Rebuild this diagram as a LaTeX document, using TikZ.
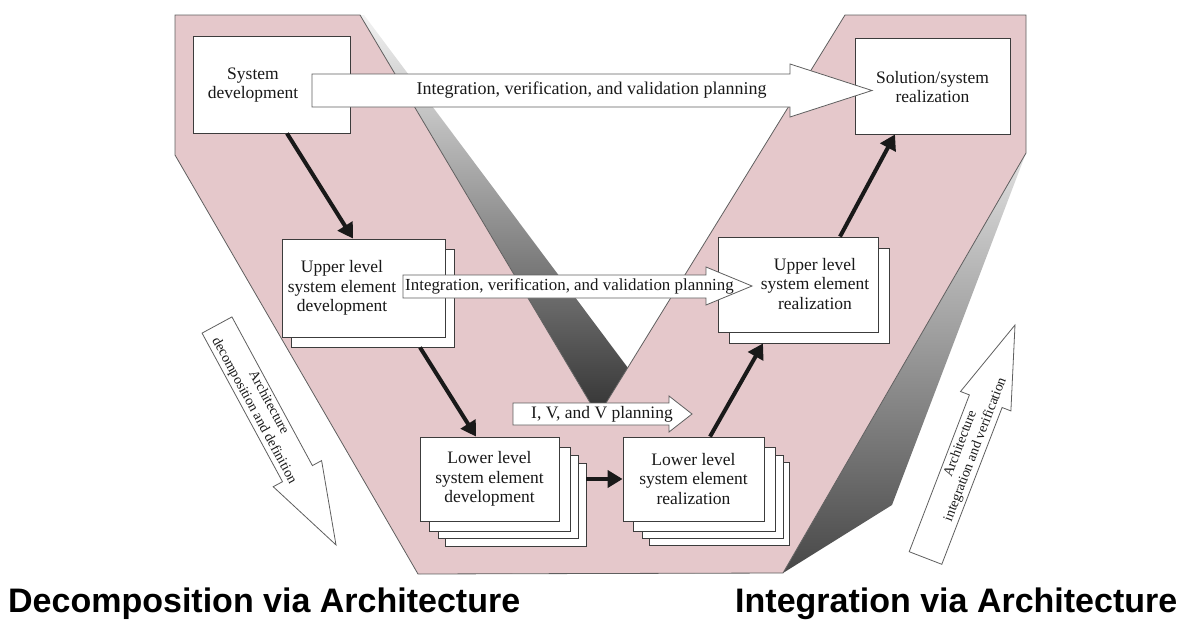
\documentclass[tikz,border=0pt]{standalone}
\usepackage{fontspec}
\setmainfont{Liberation Serif}
\newfontfamily\headfont{Liberation Sans}
\usetikzlibrary{arrows.meta}
\definecolor{vpink}{RGB}{229,200,203}
\definecolor{vedge}{RGB}{95,95,95}
\definecolor{boxedge}{RGB}{60,60,60}
\definecolor{txt}{RGB}{25,25,25}
\begin{document}
\begin{tikzpicture}[x=1pt,y=-1pt,line join=miter,
 box/.style={draw=boxedge,line width=0.8pt,fill=white,inner sep=0pt},
 lbl/.style={font=\fontsize{17.5}{19.5}\selectfont,text=txt,align=center,inner sep=0pt},
 small/.style={font=\fontsize{14}{16.5}\selectfont,text=txt,align=center,inner sep=0pt},
 flow/.style={draw=black!90,line width=4pt,-{Triangle[length=15pt,width=17pt]}},
 blk/.style={draw=vedge,line width=0.8pt,fill=white},
 head/.style={font=\headfont\bfseries\fontsize{34}{40}\selectfont,text=black,inner sep=0pt,anchor=base west}]
\useasboundingbox (0,0) rectangle (1195,619);
% gray depth bands
\shade[top color=black!5,bottom color=black!80] (360,15) -- (364,15) -- (628,368) -- (598,416) -- cycle;
\shade[top color=black!12,bottom color=black!72] (1026,153) -- (892,505) -- (783,573) -- cycle;
% pink V
\draw[vedge,line width=0.8pt,fill=vpink] (175,15) -- (360,15) -- (598,416) -- (845,15) -- (1026,15) -- (1026,153) -- (783,573) -- (418,574) -- (175,155) -- cycle;
% boxes
\node[box,minimum width=157pt,minimum height=97pt] (sd) at (271.5,84.5) {};
\node[lbl] (sdt) at (253,85) {System\\development};
\node[box,minimum width=155pt,minimum height=96pt] (sol) at (932.5,86) {};
\node[lbl] (solt) at (932.5,87) {Solution/system\\realization};
\node[box,minimum width=163pt,minimum height=98pt] (udb) at (372.5,298) {};
\node[box,minimum width=163pt,minimum height=98pt] (ud) at (363.5,288) {};
\node[lbl] (udt) at (342,288) {Upper level\\system element\\development};
\node[box,minimum width=160pt,minimum height=95pt] (urb) at (809,295.5) {};
\node[box,minimum width=160pt,minimum height=95pt] (ur) at (798,284.5) {};
\node[lbl] (urt) at (815,284) {Upper level\\system element\\realization};
\node[box,minimum width=141pt,minimum height=83pt] (ldc) at (515.5,504.5) {};
\node[box,minimum width=140pt,minimum height=83pt] (ldb) at (508,496.5) {};
\node[box,minimum width=141pt,minimum height=84pt] (lda) at (499.5,489) {};
\node[box,minimum width=139pt,minimum height=84pt] (ld) at (489.5,479) {};
\node[lbl] (ldt) at (489.5,479) {Lower level\\system element\\development};
\node[box,minimum width=140pt,minimum height=83pt] (lrc) at (719.3,504.3) {};
\node[box,minimum width=141pt,minimum height=83pt] (lrb) at (713,496.7) {};
\node[box,minimum width=142pt,minimum height=84pt] (lra) at (704,489) {};
\node[box,minimum width=141pt,minimum height=84pt] (lr) at (693.5,479) {};
\node[lbl] (lrt) at (693.5,479) {Lower level\\system element\\realization};
% flow connectors
\draw[flow] ([xshift=15.5pt]sd.south) -- ([xshift=-10.5pt]ud.north);
\draw[flow] ([xshift=47.5pt]udb.south) -- ([xshift=-13.5pt]ld.north);
\draw[flow] (ldc.east |- ld.east) -- (lr.west);
\draw[flow] ([xshift=16.5pt]lr.north) -- ([xshift=-46pt]urb.south);
\draw[flow] ([xshift=42pt]ur.north) -- ([xshift=-37.5pt]sol.south);
% planning block arrows
\draw[blk] (312,74) -- (790,74) -- (790,64) -- (872,90.5) -- (790,117) -- (790,107) -- (312,107) -- cycle;
\node[lbl,font=\fontsize{18}{20}\selectfont] (ivv1) at (591.5,90.5) {Integration, verification, and validation planning};
\draw[blk] (403,275) -- (706,275) -- (706,267) -- (752,286) -- (706,305) -- (706,298) -- (403,298) -- cycle;
\node[lbl,font=\fontsize{16.9}{19}\selectfont] (ivv2) at (569.5,286.5) {Integration, verification, and validation planning};
\draw[blk] (513,403) -- (669,403) -- (669,396) -- (692,414) -- (669,432) -- (669,425) -- (513,425) -- cycle;
\node[lbl] (ivv3) at (602,414) {I, V, and V planning};
% architecture arrows
\draw[blk] (231.95,316.9) -- (312.4,465.6) -- (321.6,460.6) -- (336,544.9) -- (273.2,486.7) -- (282.5,481.7) -- (202.05,333.1) -- cycle;
\node[small,rotate=-61.6] (adl) at (261.2,406.8) {Architecture\\decomposition and definition};
\draw[blk] (941.8,564.3) -- (1002.1,407.5) -- (1010.9,410.9) -- (1015,325) -- (960.5,391.5) -- (969.4,394.9) -- (909.2,551.7) -- cycle;
\node[small,rotate=69,font=\fontsize{14}{16}\selectfont] (air) at (968.2,446.9) {Architecture\\integration and verification};
% headings
\node[head] (h1) at (8,612) {Decomposition via Architecture};
\node[head] (h2) at (735,612) {Integration via Architecture};
\end{tikzpicture}
\end{document}
